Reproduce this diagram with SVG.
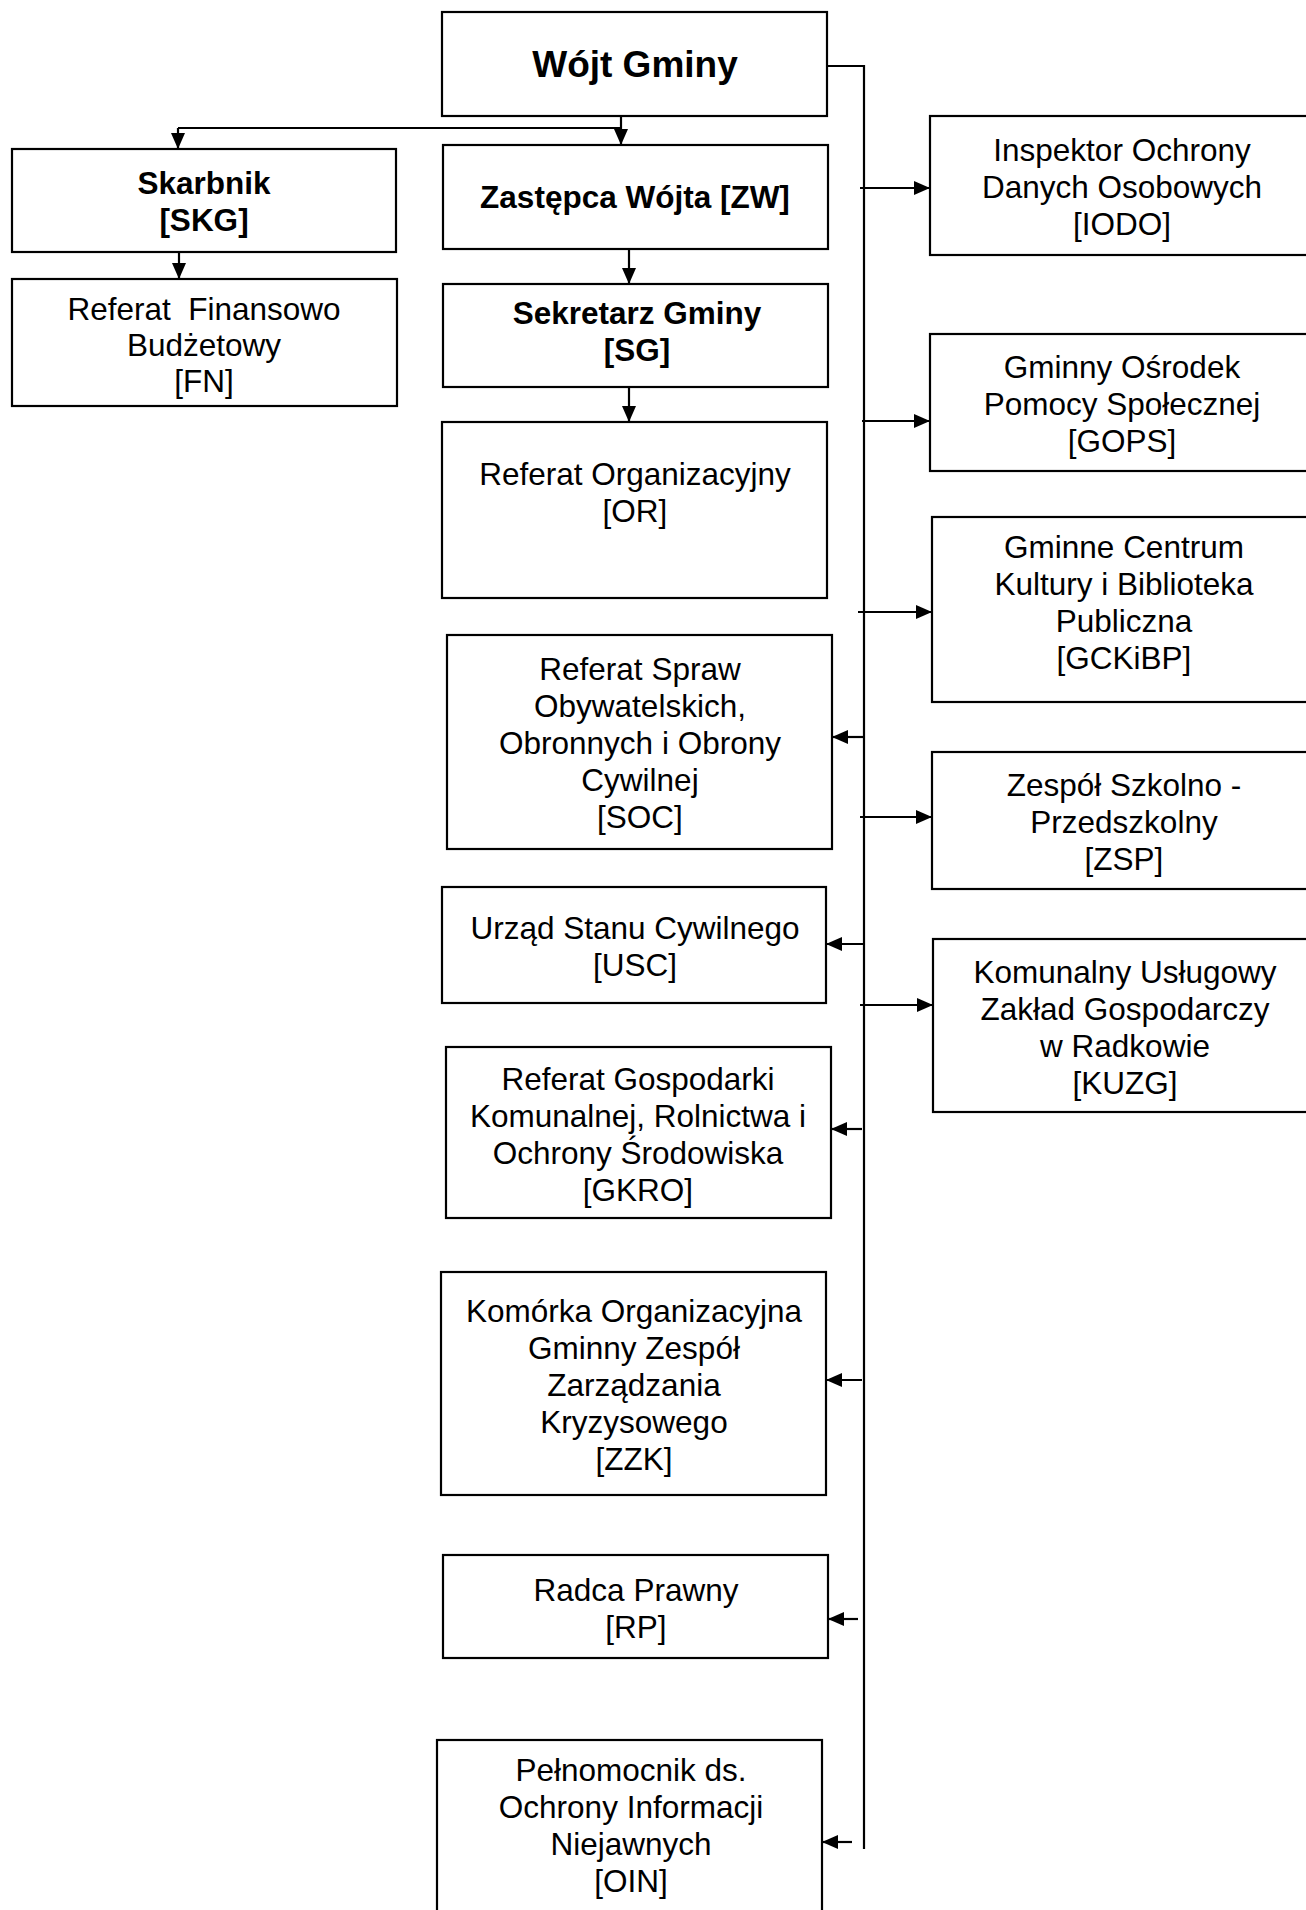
<svg xmlns="http://www.w3.org/2000/svg" width="1306" height="1910" viewBox="0 0 1306 1910">
<style>
.box{fill:#fff;stroke:#000;stroke-width:2.2}
.t{font-family:"Liberation Sans",Arial,sans-serif;font-size:31.5px;fill:#000;text-anchor:middle}
.b{font-weight:bold}
.big{font-size:37px}
.ln{stroke:#000;stroke-width:2.2;fill:none}
</style>
<defs>
<marker id="ah" viewBox="0 0 16 14" refX="16" refY="7" markerWidth="16" markerHeight="14" markerUnits="userSpaceOnUse" orient="auto">
<path d="M0,0 L16,7 L0,14 Z" fill="#000"/>
</marker>
</defs>
<rect width="1306" height="1910" fill="#fff"/>
<g id="connectors">
<polyline class="ln" points="827,66 864,66 864,1849"/>
<line class="ln" x1="621" y1="116" x2="621" y2="128"/>
<line class="ln" x1="178" y1="128" x2="621" y2="128"/>
<line class="ln" x1="178" y1="128" x2="178" y2="149" marker-end="url(#ah)"/>
<line class="ln" x1="621" y1="128" x2="621" y2="145" marker-end="url(#ah)"/>
<line class="ln" x1="179" y1="252" x2="179" y2="279" marker-end="url(#ah)"/>
<line class="ln" x1="629" y1="249" x2="629" y2="284" marker-end="url(#ah)"/>
<line class="ln" x1="629" y1="387" x2="629" y2="422" marker-end="url(#ah)"/>
<line class="ln" x1="860" y1="188" x2="930" y2="188" marker-end="url(#ah)"/>
<line class="ln" x1="862" y1="421" x2="930" y2="421" marker-end="url(#ah)"/>
<line class="ln" x1="858" y1="612" x2="932" y2="612" marker-end="url(#ah)"/>
<line class="ln" x1="860" y1="817" x2="932" y2="817" marker-end="url(#ah)"/>
<line class="ln" x1="860" y1="1005" x2="933" y2="1005" marker-end="url(#ah)"/>
<line class="ln" x1="864" y1="737" x2="832" y2="737" marker-end="url(#ah)"/>
<line class="ln" x1="864" y1="944" x2="826" y2="944" marker-end="url(#ah)"/>
<line class="ln" x1="862" y1="1129" x2="831" y2="1129" marker-end="url(#ah)"/>
<line class="ln" x1="862" y1="1380" x2="826" y2="1380" marker-end="url(#ah)"/>
<line class="ln" x1="858" y1="1619" x2="828" y2="1619" marker-end="url(#ah)"/>
<line class="ln" x1="852" y1="1842" x2="822" y2="1842" marker-end="url(#ah)"/>
</g>
<g id="wojt"><rect class="box" x="442" y="12" width="385" height="104"/><text class="t b big" x="635" y="77">Wójt Gminy</text></g>
<g id="skg"><rect class="box" x="12" y="149" width="384" height="103"/><text class="t b" x="204" y="194">Skarbnik</text><text class="t b" x="204" y="231">[SKG]</text></g>
<g id="zw"><rect class="box" x="443" y="145" width="385" height="104"/><text class="t b" x="635" y="208">Zastępca Wójta [ZW]</text></g>
<g id="fn"><rect class="box" x="12" y="279" width="385" height="127"/><text class="t" x="204" y="320" xml:space="preserve">Referat  Finansowo</text><text class="t" x="204" y="356">Budżetowy</text><text class="t" x="204" y="392">[FN]</text></g>
<g id="sg"><rect class="box" x="443" y="284" width="385" height="103"/><text class="t b" x="637" y="324">Sekretarz Gminy</text><text class="t b" x="637" y="361">[SG]</text></g>
<g id="or"><rect class="box" x="442" y="422" width="385" height="176"/><text class="t" x="635" y="485">Referat Organizacyjny</text><text class="t" x="635" y="522">[OR]</text></g>
<g id="soc"><rect class="box" x="447" y="635" width="385" height="214"/><text class="t" x="640" y="680">Referat Spraw</text><text class="t" x="640" y="717">Obywatelskich,</text><text class="t" x="640" y="754">Obronnych i Obrony</text><text class="t" x="640" y="791">Cywilnej</text><text class="t" x="640" y="828">[SOC]</text></g>
<g id="usc"><rect class="box" x="442" y="887" width="384" height="116"/><text class="t" x="635" y="939">Urząd Stanu Cywilnego</text><text class="t" x="635" y="976">[USC]</text></g>
<g id="gkro"><rect class="box" x="446" y="1047" width="385" height="171"/><text class="t" x="638" y="1090">Referat Gospodarki</text><text class="t" x="638" y="1127">Komunalnej, Rolnictwa i</text><text class="t" x="638" y="1164">Ochrony Środowiska</text><text class="t" x="638" y="1201">[GKRO]</text></g>
<g id="zzk"><rect class="box" x="441" y="1272" width="385" height="223"/><text class="t" x="634" y="1322">Komórka Organizacyjna</text><text class="t" x="634" y="1359">Gminny Zespół</text><text class="t" x="634" y="1396">Zarządzania</text><text class="t" x="634" y="1433">Kryzysowego</text><text class="t" x="634" y="1470">[ZZK]</text></g>
<g id="rp"><rect class="box" x="443" y="1555" width="385" height="103"/><text class="t" x="636" y="1601">Radca Prawny</text><text class="t" x="636" y="1638">[RP]</text></g>
<g id="oin"><rect class="box" x="437" y="1740" width="385" height="190"/><text class="t" x="631" y="1781">Pełnomocnik ds.</text><text class="t" x="631" y="1818">Ochrony Informacji</text><text class="t" x="631" y="1855">Niejawnych</text><text class="t" x="631" y="1892">[OIN]</text></g>
<g id="iodo"><rect class="box" x="930" y="116" width="400" height="139"/><text class="t" x="1122" y="161">Inspektor Ochrony</text><text class="t" x="1122" y="198">Danych Osobowych</text><text class="t" x="1122" y="235">[IODO]</text></g>
<g id="gops"><rect class="box" x="930" y="334" width="400" height="137"/><text class="t" x="1122" y="378">Gminny Ośrodek</text><text class="t" x="1122" y="415">Pomocy Społecznej</text><text class="t" x="1122" y="452">[GOPS]</text></g>
<g id="gckibp"><rect class="box" x="932" y="517" width="400" height="185"/><text class="t" x="1124" y="558">Gminne Centrum</text><text class="t" x="1124" y="595">Kultury i Biblioteka</text><text class="t" x="1124" y="632">Publiczna</text><text class="t" x="1124" y="669">[GCKiBP]</text></g>
<g id="zsp"><rect class="box" x="932" y="752" width="400" height="137"/><text class="t" x="1124" y="796">Zespół Szkolno -</text><text class="t" x="1124" y="833">Przedszkolny</text><text class="t" x="1124" y="870">[ZSP]</text></g>
<g id="kuzg"><rect class="box" x="933" y="939" width="400" height="173"/><text class="t" x="1125" y="983">Komunalny Usługowy</text><text class="t" x="1125" y="1020">Zakład Gospodarczy</text><text class="t" x="1125" y="1057">w Radkowie</text><text class="t" x="1125" y="1094">[KUZG]</text></g>
</svg>
